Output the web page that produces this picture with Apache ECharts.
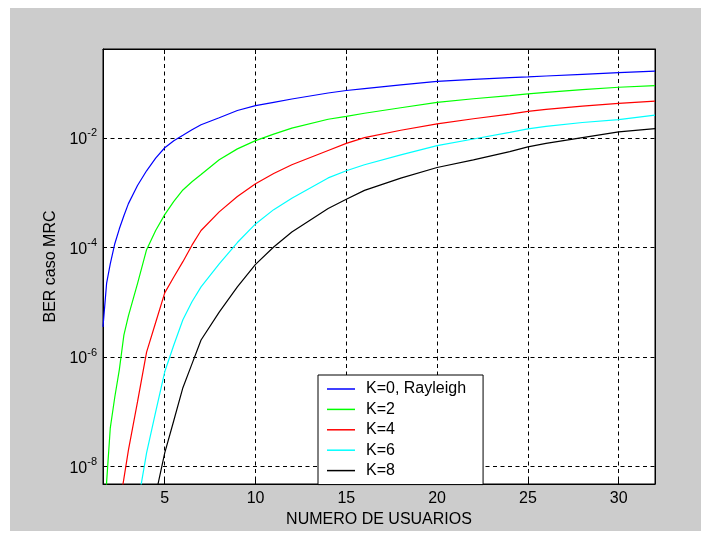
<!DOCTYPE html>
<html><head><meta charset="utf-8">
<script src="https://cdn.jsdelivr.net/npm/echarts@6/dist/echarts.min.js"></script>
<style>
html,body{margin:0;padding:0;background:#fff;}
#wrap{position:relative;width:711px;height:539px;background:#fff;overflow:hidden;}
#bg{position:absolute;left:10px;top:8px;width:691px;height:523px;background:#cccccc;}
#chart{position:absolute;left:0;top:0;width:711px;height:539px;}
</style></head><body>
<div id="wrap"><div id="bg"></div><div id="chart"></div></div>
<script>
const users = [1.6, 1.8, 2, 2.25, 2.5, 2.75, 3, 3.5, 4, 4.5, 5, 5.5, 6, 6.5, 7, 8, 9, 10, 11, 12, 14, 15, 16, 18, 20, 22, 24, 25, 26, 28, 30, 32];
const berK0 = [3.55e-6, 2.24e-5, 5.01e-5, 1.17e-4, 2.19e-4, 3.80e-4, 6.31e-4, 1.35e-3, 2.51e-3, 4.27e-3, 6.61e-3, 8.91e-3, 1.12e-2, 1.41e-2, 1.74e-2, 2.34e-2, 3.16e-2, 3.89e-2, 4.47e-2, 5.13e-2, 6.61e-2, 7.33e-2, 7.94e-2, 9.33e-2, 0.108, 0.117, 0.126, 0.130, 0.135, 0.145, 0.155, 0.166];
const berK2 = [1e-10, 5.25e-9, 5.01e-8, 1.86e-7, 5.89e-7, 2.51e-6, 5.62e-6, 2.19e-5, 9.12e-5, 2.04e-4, 3.98e-4, 6.92e-4, 1.12e-3, 1.58e-3, 2.14e-3, 3.98e-3, 6.31e-3, 8.91e-3, 1.17e-2, 1.51e-2, 2.19e-2, 2.48e-2, 2.82e-2, 3.55e-2, 4.47e-2, 5.19e-2, 5.93e-2, 6.38e-2, 6.76e-2, 7.59e-2, 8.41e-2, 9.02e-2];
const berK4 = [1e-11, 3.98e-11, 1.62e-10, 5.37e-10, 1.82e-9, 6.03e-9, 2.0e-8, 1.51e-7, 1.23e-6, 4.27e-6, 1.48e-5, 2.88e-5, 5.50e-5, 1.10e-4, 2.04e-4, 4.47e-4, 8.51e-4, 1.46e-3, 2.24e-3, 3.24e-3, 5.89e-3, 7.94e-3, 1.01e-2, 1.38e-2, 1.80e-2, 2.24e-2, 2.72e-2, 3.05e-2, 3.31e-2, 3.80e-2, 4.27e-2, 4.68e-2];
const berK6 = [1e-14, 3.16e-14, 1e-13, 6.31e-13, 3.16e-12, 2.51e-11, 2.0e-10, 1.91e-9, 1.78e-8, 1.0e-7, 5.37e-7, 1.66e-6, 4.79e-6, 1.02e-5, 1.91e-5, 5.01e-5, 1.23e-4, 2.69e-4, 4.90e-4, 7.94e-4, 1.86e-3, 2.51e-3, 3.24e-3, 4.90e-3, 7.24e-3, 9.55e-3, 1.26e-2, 1.46e-2, 1.62e-2, 1.91e-2, 2.16e-2, 2.60e-2];
const berK8 = [1e-16, 2.51e-16, 6.31e-16, 2.51e-15, 1e-14, 3.98e-14, 1.58e-13, 1e-11, 5.01e-10, 3.02e-9, 1.78e-8, 6.92e-8, 2.75e-7, 7.5e-7, 2.04e-6, 6.61e-6, 1.91e-5, 4.90e-5, 1.02e-4, 1.91e-4, 5.13e-4, 7.59e-4, 1.10e-3, 1.84e-3, 2.88e-3, 3.98e-3, 5.62e-3, 6.84e-3, 7.94e-3, 1.01e-2, 1.29e-2, 1.48e-2];
const seriesNames = ['K=0, Rayleigh', 'K=2', 'K=4', 'K=6', 'K=8'];
const seriesColors = ['#0000ff', '#00ff00', '#ff0000', '#00ffff', '#000000'];
const xLabel = 'NUMERO DE USUARIOS';
const yLabel = 'BER caso MRC';

const FONT = '"Liberation Sans", Arial, Helvetica, sans-serif';
const allSeries = [berK0, berK2, berK4, berK6, berK8];
const chart = echarts.init(document.getElementById('chart'));
const gridDash = { color: '#000', width: 1, type: [4, 3.5] };

chart.setOption({
  animation: false,
  textStyle: { fontFamily: FONT },
  grid: { left: 103, top: 49, right: 56, bottom: 55, containLabel: false, show: true, backgroundColor: '#ffffff', borderColor: '#000', borderWidth: 1 },
  legend: {
    orient: 'vertical', left: 318, top: 375,
    icon: 'rect', itemWidth: 28, itemHeight: 1.5, itemGap: 4.4,
    padding: [6, 17, 6, 9],
    backgroundColor: '#ffffff', borderColor: '#000', borderWidth: 1, borderRadius: 0,
    textStyle: { fontSize: 16, color: '#000', fontFamily: FONT, padding: [0, 0, 0, 6] },
    data: seriesNames
  },
  xAxis: [{
    type: 'value', min: 1.6, max: 32,
    name: xLabel, nameLocation: 'middle', nameGap: 26,
    nameTextStyle: { fontSize: 16, color: '#000', fontFamily: FONT },
    axisLine: { show: true, lineStyle: { color: '#000', width: 1 } },
    axisTick: { show: true, inside: true, length: 5, lineStyle: { color: '#000' } },
    axisLabel: { fontSize: 16, color: '#000', margin: 7, fontFamily: FONT,
      formatter: v => (Math.abs(v / 5 - Math.round(v / 5)) < 1e-9 ? String(v) : '') },
    splitLine: { show: true, lineStyle: gridDash }
  }, {
    type: 'value', min: 1.6, max: 32, position: 'top',
    axisLine: { show: true, lineStyle: { color: '#000', width: 1 } },
    axisTick: { show: true, inside: true, length: 5, lineStyle: { color: '#000' } },
    axisLabel: { show: false }, splitLine: { show: false }
  }],
  yAxis: [{
    type: 'log', logBase: 10, min: 4.8e-9, max: 0.42,
    name: yLabel, nameLocation: 'middle', nameGap: 42, nameRotate: 90,
    nameTextStyle: { fontSize: 16, color: '#000', fontFamily: FONT },
    axisLine: { show: true, lineStyle: { color: '#000', width: 1 } },
    axisTick: { show: false },
    axisLabel: {
      margin: 6, color: '#000',
      formatter: v => {
        const e = Math.log10(v), ei = Math.round(e);
        if (Math.abs(e - ei) > 1e-6 || ei % 2 !== 0) return '';
        return '{b|10}{s|' + ei + '}';
      },
      rich: {
        b: { fontSize: 16, color: '#000', fontFamily: FONT, verticalAlign: 'bottom' },
        s: { fontSize: 11, color: '#000', fontFamily: FONT, verticalAlign: 'top', padding: [0, 0, 9, 0] }
      }
    },
    splitLine: { show: true, lineStyle: { color: ['transparent', '#000'], width: 1, type: [4, 3.5] } }
  }, {
    type: 'log', logBase: 10, min: 4.8e-9, max: 0.42, position: 'right',
    axisLine: { show: true, lineStyle: { color: '#000', width: 1 } },
    axisTick: { show: false }, axisLabel: { show: false }, splitLine: { show: false }
  }],
  series: allSeries.map((vals, i) => ({
    name: seriesNames[i], type: 'line', xAxisIndex: 0, yAxisIndex: 0,
    symbol: 'none', smooth: false, clip: true,
    lineStyle: { color: seriesColors[i], width: 1.2 },
    itemStyle: { color: seriesColors[i] },
    data: users.map((u, j) => [u, vals[j]])
  }))
});
</script>
</body></html>
